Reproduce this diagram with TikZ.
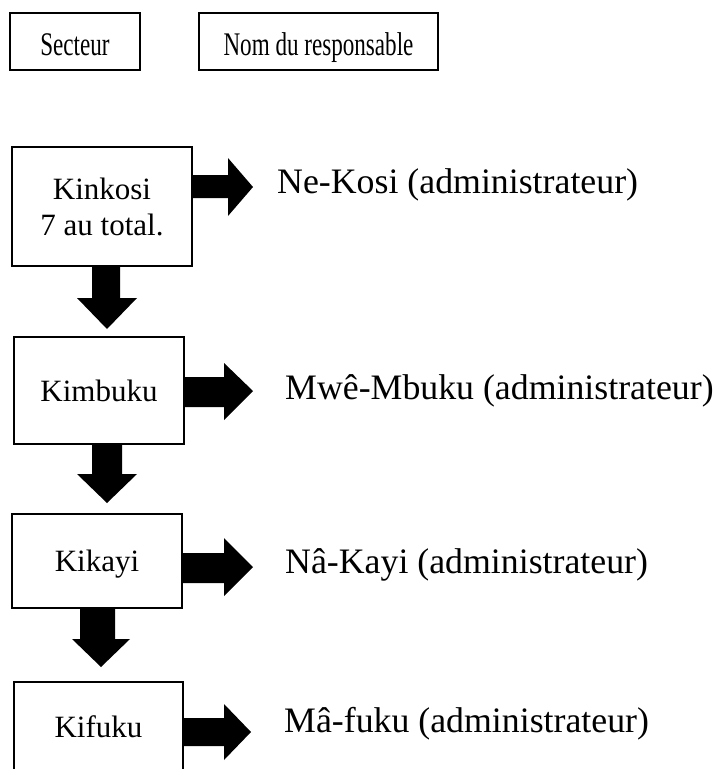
\documentclass[tikz,border=0pt]{standalone}
\usepackage{fontspec}
\setmainfont{Liberation Serif}
\usetikzlibrary{calc}
\tikzset{
  hdrbox/.style={draw, line width=1.5pt, rectangle, inner sep=0pt, text height=27pt, text depth=0pt,
    font=\fontsize{33}{40}\selectfont},
  flowbox/.style={draw, line width=1.5pt, rectangle, inner sep=0pt, align=center,
    font=\fontsize{31}{36}\selectfont},
  onebox/.style={flowbox, text depth=0pt},
  lbl/.style={anchor=base west, inner sep=0pt, font=\fontsize{35.8}{43}\selectfont},
  blk/.style={fill=black, draw=none}
}
\begin{document}
\begin{tikzpicture}[x=1pt,y=-1pt]
\clip (0,0) rectangle (720,769);
\fill[white] (0,0) rectangle (720,769);
% headers
\node[hdrbox, minimum width=130pt, minimum height=57pt] (sect) at (75,41.5) {\scalebox{0.7}[1]{Secteur}};
\node[hdrbox, minimum width=239pt, minimum height=57pt] (nom) at (318.5,41.5) {\scalebox{0.7}[1]{Nom du responsable}};
% sector boxes
\node[flowbox, minimum width=180pt, minimum height=119pt] (b1) at (102,206.5) {Kinkosi\\7 au total.};
\node[onebox, minimum width=170pt, minimum height=107pt] (b2) at (99,390.5) {Kimbuku};
\node[onebox, minimum width=170pt, minimum height=94pt] (b3) at (97,561) {Kikayi};
\node[onebox, minimum width=169pt, minimum height=90pt] (b4) at (98.5,727) {Kifuku};
% responsible labels
\node[lbl] (r1) at (277,193) {Ne-Kosi (administrateur)};
\node[lbl] (r2) at (285,399) {Mwê-Mbuku (administrateur)};
\node[lbl] (r3) at (285,573) {Nâ-Kayi (administrateur)};
\node[lbl] (r4) at (284,732) {Mâ-fuku (administrateur)};
% right block arrows
\fill[blk] (b1.east |- 0,175) -- (228,175) -- (228,158) -- (253,187) -- (228,216) -- (228,198) -- (b1.east |- 0,198) -- cycle;
\fill[blk] (b2.east |- 0,377) -- (224,377) -- (224,363) -- (253,391) -- (224,420) -- (224,407) -- (b2.east |- 0,407) -- cycle;
\fill[blk] (b3.east |- 0,553) -- (224,553) -- (224,538) -- (253,567) -- (224,596) -- (224,583) -- (b3.east |- 0,583) -- cycle;
\fill[blk] (b4.east |- 0,718) -- (224,718) -- (224,704) -- (251,732) -- (224,760) -- (224,746) -- (b4.east |- 0,746) -- cycle;
% down block arrows
\fill[blk] (b1.south -| 92,0) -- (92,298) -- (77,298) -- (107,329) -- (137,298) -- (120,298) -- (b1.south -| 120,0) -- cycle;
\fill[blk] (b2.south -| 92,0) -- (92,474) -- (77,474) -- (107,503) -- (137,474) -- (122,474) -- (b2.south -| 122,0) -- cycle;
\fill[blk] (b3.south -| 80,0) -- (80,639) -- (72,639) -- (101,667) -- (130,639) -- (115,639) -- (b3.south -| 115,0) -- cycle;
\end{tikzpicture}
\end{document}
